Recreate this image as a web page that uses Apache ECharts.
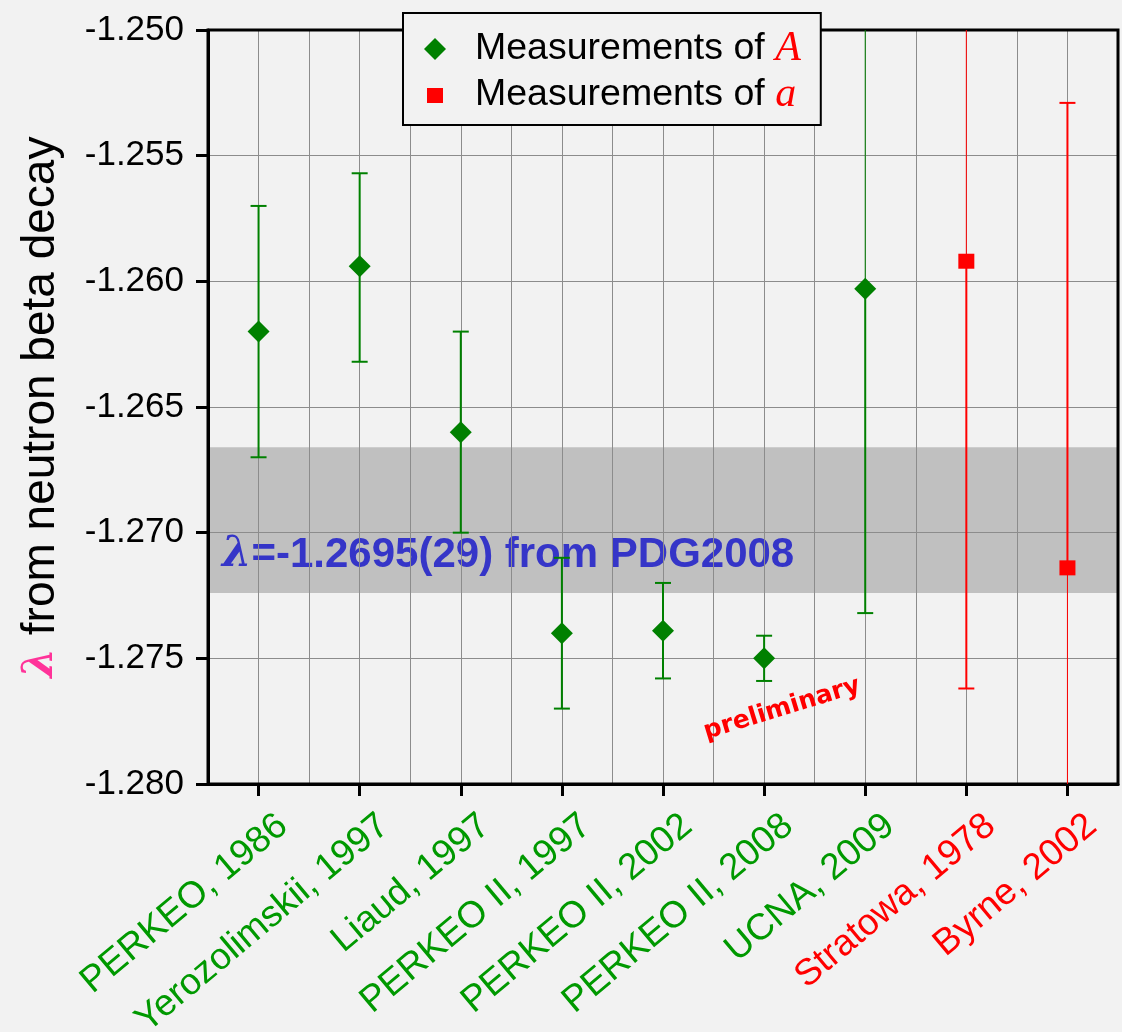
<!DOCTYPE html>
<html>
<head>
<meta charset="utf-8">
<script src="https://cdn.jsdelivr.net/npm/echarts@6/dist/echarts.min.js"></script>
<style>
  html, body { margin: 0; padding: 0; background: #f2f2f2; }
  #chart { width: 1122px; height: 1032px; }
</style>
</head>
<body>
<div id="chart"></div>
<script>
// experiments, left to right
const categories = ['PERKEO, 1986', 'Yerozolimskii, 1997', 'Liaud, 1997', 'PERKEO II, 1997',
  'PERKEO II, 2002', 'PERKEO II, 2008', 'UCNA, 2009', 'Stratowa, 1978', 'Byrne, 2002'];
// which asymmetry the value comes from: 'A' (beta asymmetry) or 'a' (e-nu correlation)
const source = ['A', 'A', 'A', 'A', 'A', 'A', 'A', 'a', 'a'];
// central values of lambda
const lambdaFromA = [-1.2620, -1.2594, -1.2660, -1.2740, -1.2739, -1.2750, -1.2603, null, null];
const lambdaFroma = [null, null, null, null, null, null, null, -1.2592, -1.2714];
// error bar ends
const errLow = [-1.2670, -1.2632, -1.2700, -1.2770, -1.2758, -1.2759, -1.2732, -1.2762, -1.2899];
const errHigh = [-1.2570, -1.2557, -1.2620, -1.2710, -1.2720, -1.2741, -1.2474, -1.2422, -1.2529];
// PDG2008 band: -1.2695 +- 0.0029
const pdgBand = [-1.2666, -1.2724];
const yMin = -1.280, yMax = -1.250, yStep = 0.005;

const GREEN = '#008000';
const RED = '#ff0000';
const FONT = "'Liberation Sans', Arial, sans-serif";

function barRows(tag, centers) {
  const rows = [];
  categories.forEach((c, i) => {
    if (source[i] === tag) rows.push([i, centers[i], errLow[i], errHigh[i]]);
  });
  return rows;
}

function pointRows(values) {
  const rows = [];
  values.forEach((v, i) => { if (v !== null) rows.push([i, v]); });
  return rows;
}

// vertical error bar with caps; halves running off the plot are thinner and capless
function errorBar(color) {
  return function (params, api) {
    const cs = params.coordSys;
    const i = api.value(0);
    const mid = api.coord([i, api.value(1)]);
    const lo = api.coord([i, api.value(2)]);
    const hi = api.coord([i, api.value(3)]);
    const x = mid[0];
    const clipTop = hi[1] < cs.y;
    const clipBot = lo[1] > cs.y + cs.height;
    const top = clipTop ? cs.y : hi[1];
    const bot = clipBot ? cs.y + cs.height : lo[1];
    const half = 8;
    const kids = [
      { type: 'line', shape: { x1: x, y1: top, x2: x, y2: mid[1] }, style: { stroke: color, lineWidth: clipTop ? 1 : 2 } },
      { type: 'line', shape: { x1: x, y1: mid[1], x2: x, y2: bot }, style: { stroke: color, lineWidth: clipBot ? 1 : 2 } }
    ];
    if (!clipTop) kids.push({ type: 'line', shape: { x1: x - half, y1: top, x2: x + half, y2: top }, style: { stroke: color, lineWidth: 2 } });
    if (!clipBot) kids.push({ type: 'line', shape: { x1: x - half, y1: bot, x2: x + half, y2: bot }, style: { stroke: color, lineWidth: 2 } });
    return { type: 'group', children: kids };
  };
}

const chart = echarts.init(document.getElementById('chart'), null, { renderer: 'canvas' });

chart.setOption({
  backgroundColor: '#f2f2f2',
  animation: false,
  grid: {
    left: 208, right: 4, top: 30, bottom: 248,
    outerBoundsMode: 'none', containLabel: false,
    show: true, backgroundColor: 'transparent', borderColor: '#000', borderWidth: 3, z: 1.6
  },
  legend: {
    orient: 'vertical',
    left: 403, top: 13,
    selectedMode: false,
    data: [
      { name: 'Measurements of A', icon: 'diamond' },
      { name: 'Measurements of a', icon: 'path://M0,0M22,22M3,4h16v15h-16z' }
    ],
    itemWidth: 22, itemHeight: 22, itemGap: 4,
    padding: [15, 20, 9, 21],
    backgroundColor: '#f2f2f2', borderColor: '#000', borderWidth: 2,
    formatter: n => '{t|Measurements of }{v|' + n.slice(-1) + '}',
    textStyle: {
      padding: [0, 0, 0, 24],
      rich: {
        t: { fontSize: 37.5, fontFamily: FONT, color: '#000', lineHeight: 45 },
        v: { fontSize: 42, fontFamily: "'Liberation Serif', serif", fontStyle: 'italic', color: RED, lineHeight: 45 }
      }
    }
  },
  xAxis: [
    {
      type: 'category',
      data: categories,
      z: 1.7,
      axisLine: { show: true, lineStyle: { color: '#000', width: 3 } },
      axisTick: { show: true, interval: 0, alignWithLabel: true, length: 12, lineStyle: { color: '#000', width: 3 } },
      splitLine: { show: false },
      axisLabel: {
        interval: 0, rotate: 40, margin: 8,
        fontSize: 37, fontFamily: FONT,
        // an empty first line pushes each rotated label off the axis
        formatter: v => '{s| }\n{n|' + v + '}',
        rich: {
          s: { fontSize: 10, lineHeight: 76 },
          n: { fontSize: 37, fontFamily: FONT, lineHeight: 42 }
        },
        color: (v, i) => source[i] === 'A' ? '#009900' : RED
      }
    },
    {
      // only carries the vertical grid: category centres and boundaries
      type: 'value', min: 0, max: categories.length, interval: 0.5,
      z: 1.5,
      axisLine: { show: false }, axisTick: { show: false }, axisLabel: { show: false },
      splitLine: { show: true, lineStyle: { color: '#8c8c8c', width: 1 } }
    }
  ],
  yAxis: {
    type: 'value',
    min: yMin, max: yMax, interval: yStep,
    z: 1.5,
    name: '{l|λ} {t|from neutron beta decay}',
    nameLocation: 'middle', nameRotate: 90, nameGap: 144,
    nameTextStyle: {
      fontSize: 46, fontFamily: FONT, color: '#000',
      rich: {
        l: { fontSize: 42, fontFamily: "'DejaVu Serif', serif", fontStyle: 'italic', fontWeight: 'bold', color: '#ff3399' },
        t: { fontSize: 46, fontFamily: FONT, color: '#000' }
      }
    },
    axisLine: { show: true, lineStyle: { color: '#000', width: 3 } },
    axisTick: { show: true, length: 12, lineStyle: { color: '#000', width: 3 } },
    axisLabel: { fontSize: 35, fontFamily: FONT, color: '#000', margin: 24, formatter: v => v.toFixed(3) },
    splitLine: { show: true, lineStyle: { color: '#8c8c8c', width: 1 } }
  },
  graphic: [
    {
      type: 'text', left: 222, top: 534, z: 1.2, silent: true,
      style: {
        text: '{l|λ}{t|=-1.2695(29) from PDG2008}',
        rich: {
          l: { fontSize: 42, fontFamily: "'DejaVu Serif', serif", fontStyle: 'italic', fontWeight: 'bold', fill: '#3535c8' },
          t: { fontSize: 42, fontFamily: FONT, fontWeight: 'bold', fill: '#3535c8' }
        }
      }
    },
    {
      type: 'text', x: 782, y: 709, rotation: 17 * Math.PI / 180, z: 5, silent: true,
      style: {
        text: 'preliminary', fontSize: 25, fontWeight: 'bold',
        fontFamily: "'DejaVu Sans', sans-serif", fill: RED,
        align: 'center', verticalAlign: 'middle'
      }
    }
  ],
  series: [
    {
      name: 'band', type: 'line', data: [], silent: true,
      markArea: {
        silent: true,
        itemStyle: { color: '#c0c0c0', opacity: 1 },
        data: [[{ yAxis: pdgBand[0] }, { yAxis: pdgBand[1] }]]
      }
    },
    {
      name: 'errA', type: 'custom', renderItem: errorBar(GREEN), z: 2,
      encode: { x: 0, y: [1, 2, 3] }, data: barRows('A', lambdaFromA)
    },
    {
      name: 'erra', type: 'custom', renderItem: errorBar(RED), z: 2,
      encode: { x: 0, y: [1, 2, 3] }, data: barRows('a', lambdaFroma)
    },
    {
      name: 'Measurements of A', type: 'scatter', symbol: 'diamond', symbolSize: [22, 22], z: 3,
      itemStyle: { color: GREEN, opacity: 1 }, data: pointRows(lambdaFromA)
    },
    {
      name: 'Measurements of a', type: 'scatter', symbol: 'rect', symbolSize: [16, 15], z: 3,
      itemStyle: { color: RED, opacity: 1 }, data: pointRows(lambdaFroma)
    }
  ]
});
</script>
</body>
</html>
